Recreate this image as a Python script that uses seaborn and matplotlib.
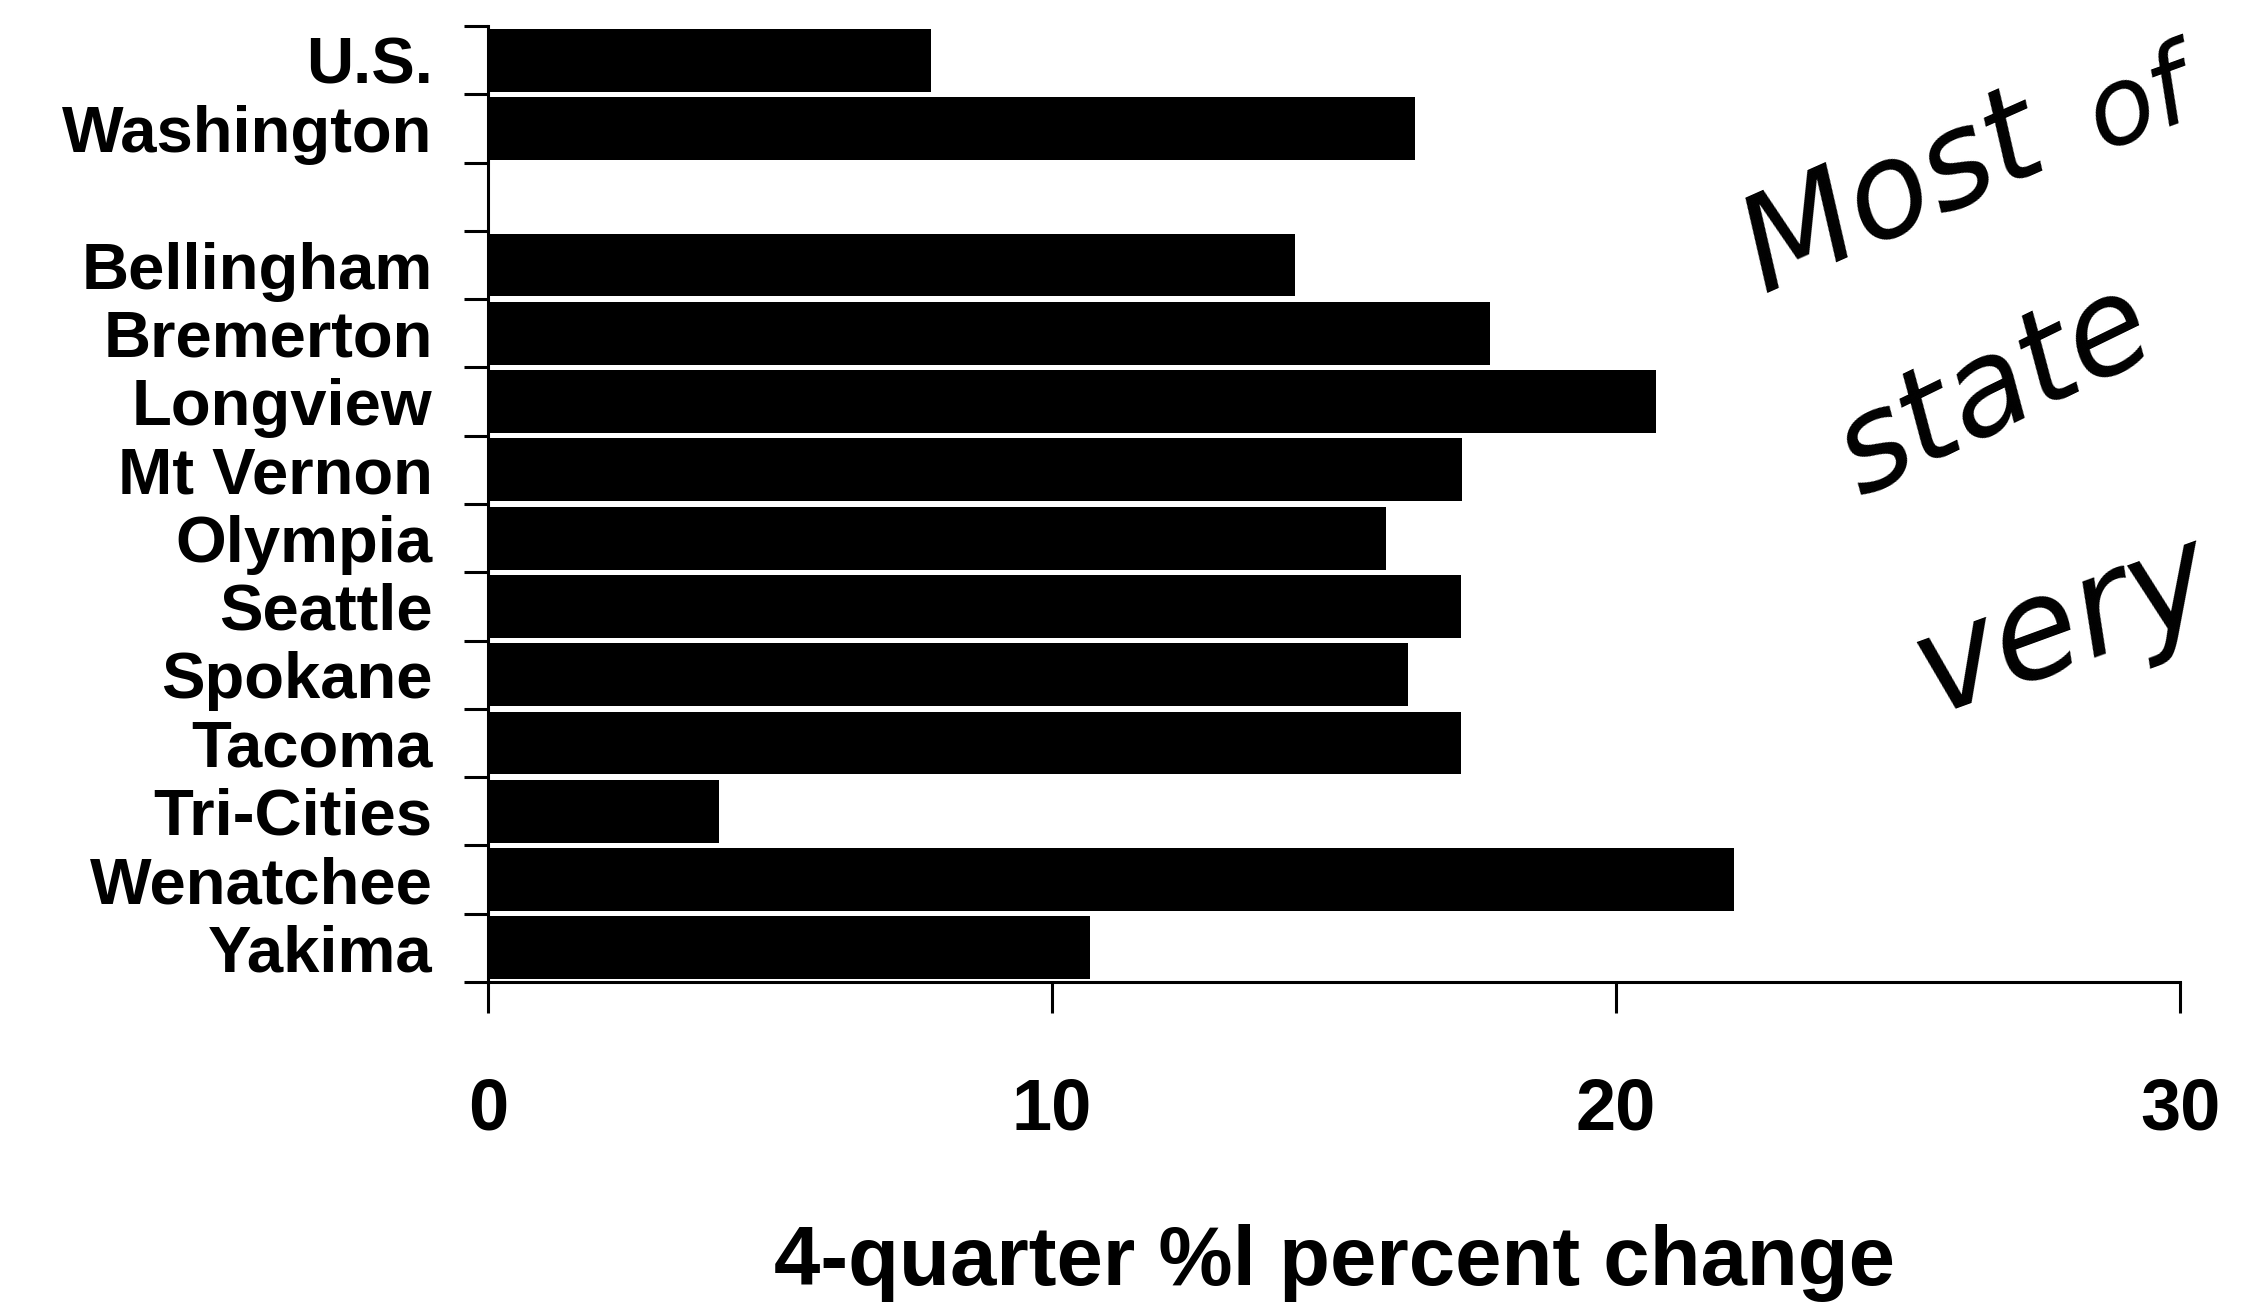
import numpy as np
import pandas as pd
import seaborn as sns
import matplotlib.pyplot as plt
from matplotlib.ticker import FixedLocator

# values (4-quarter % change)
areas = ['U.S.', 'Washington', 'Bellingham', 'Bremerton', 'Longview', 'Mt Vernon',
         'Olympia', 'Seattle', 'Spokane', 'Tacoma', 'Tri-Cities', 'Wenatchee', 'Yakima']
pct_change = [7.85, 16.43, 14.3, 17.76, 20.71, 17.27, 15.92, 17.25, 16.31, 17.25, 4.1, 22.1, 10.68]
# blank slot between the state and the metro areas
order = ['U.S.', 'Washington', ' ', 'Bellingham', 'Bremerton', 'Longview', 'Mt Vernon',
         'Olympia', 'Seattle', 'Spokane', 'Tacoma', 'Tri-Cities', 'Wenatchee', 'Yakima']
x_ticks = [0, 10, 20, 30]

df = pd.DataFrame({'area': areas, 'pct': pct_change})

sns.set_style('ticks')
plt.rcParams['font.family'] = ['Liberation Sans', 'DejaVu Sans']

fig = plt.figure(figsize=(22.44, 13.02), dpi=100)
ax = fig.add_axes([0.2175, 0.2458, 0.754, 0.7342])

sns.barplot(data=df, x='pct', y='area', order=order, orient='h', color='black',
            saturation=1, width=0.92, edgecolor='none', ax=ax)

ax.set_xlim(0, 30)
ax.set_ylim(len(order) - 0.5, -0.5)
ax.set_xticks(x_ticks)
ax.set_xticklabels([str(t) for t in x_ticks], fontsize=52, fontweight='bold', color='black')
ax.set_yticks(range(len(order)))
ax.set_yticklabels(order, fontsize=47, fontweight='bold', color='black')
ax.yaxis.set_minor_locator(FixedLocator(np.arange(-0.5, len(order), 1)))
ax.tick_params(axis='y', which='major', length=0, pad=40)
ax.tick_params(axis='y', which='minor', length=17, width=2.2, color='black', direction='out')
ax.tick_params(axis='x', which='major', length=22, width=2.2, color='black', direction='out', pad=46)

for side in ['top', 'right']:
    ax.spines[side].set_visible(False)
for side in ['left', 'bottom']:
    ax.spines[side].set_linewidth(2.2)
    ax.spines[side].set_color('black')

ax.set_ylabel('')
ax.set_xlabel('4-quarter %l percent change', fontsize=60, fontweight='bold',
              color='black', labelpad=57)

# handwritten note scribbled on the right side
note = dict(family=['DejaVu Sans'], fontstyle='oblique', fontweight=200, color='black',
            rotation_mode='anchor', ha='left', va='baseline')
fig.text(0.786, 0.775, 'Most', fontsize=95, rotation=24, **note)
fig.text(0.936, 0.885, 'of', fontsize=78, rotation=20, **note)
fig.text(0.829, 0.618, 'state', fontsize=95, rotation=26, **note)
fig.text(0.861, 0.452, 'very', fontsize=100, rotation=20, **note)

fig.savefig('out.png', dpi=100)
